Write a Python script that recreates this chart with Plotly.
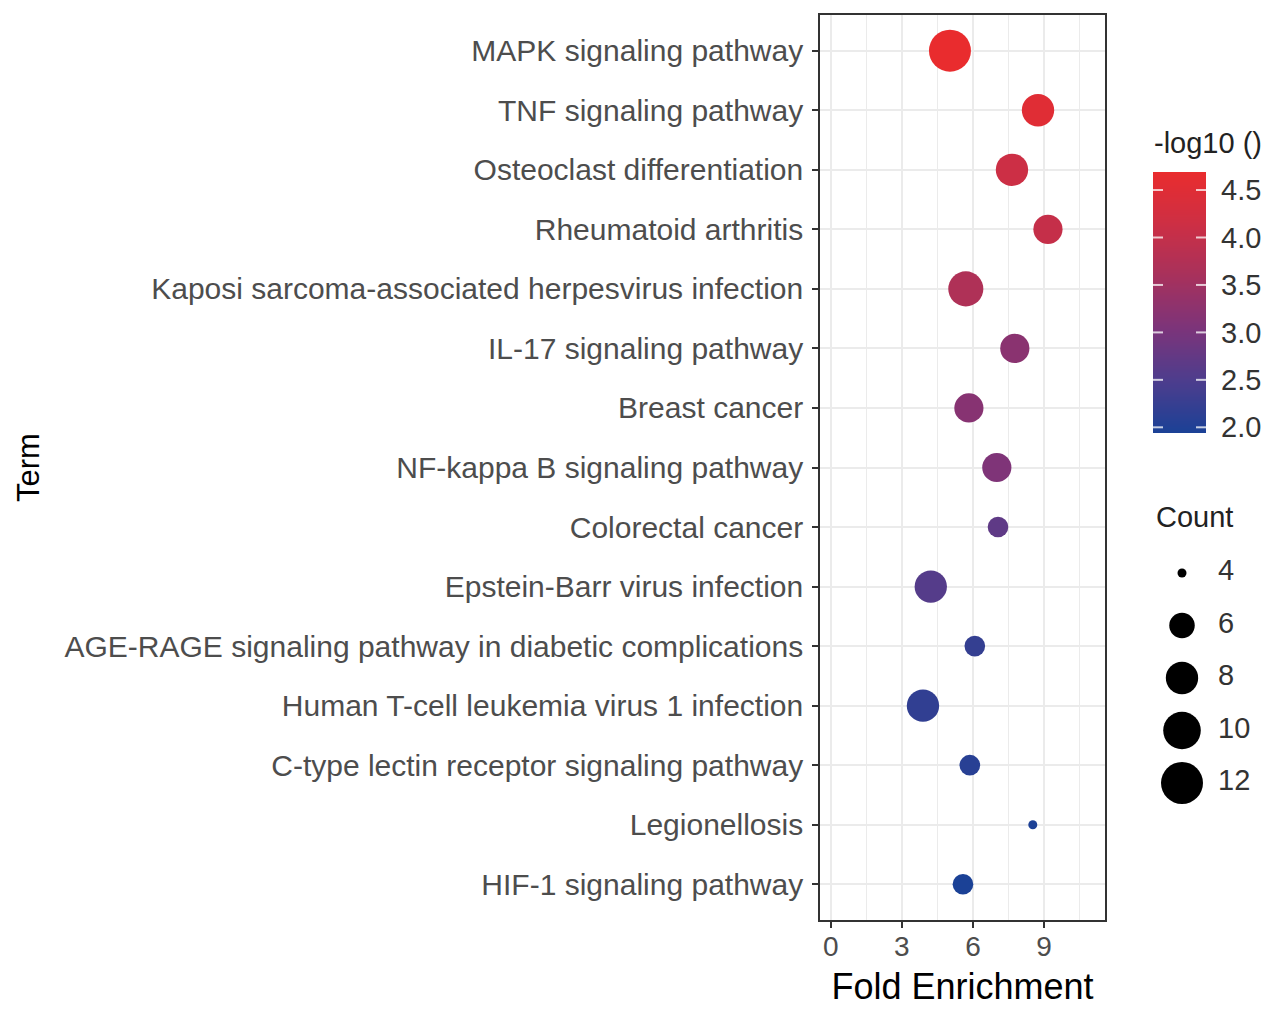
import numpy as np
import plotly.graph_objects as go

# KEGG enrichment results (top to bottom)
terms = [
    "MAPK signaling pathway",
    "TNF signaling pathway",
    "Osteoclast differentiation",
    "Rheumatoid arthritis",
    "Kaposi sarcoma-associated herpesvirus infection",
    "IL-17 signaling pathway",
    "Breast cancer",
    "NF-kappa B signaling pathway",
    "Colorectal cancer",
    "Epstein-Barr virus infection",
    "AGE-RAGE signaling pathway in diabetic complications",
    "Human T-cell leukemia virus 1 infection",
    "C-type lectin receptor signaling pathway",
    "Legionellosis",
    "HIF-1 signaling pathway",
]
fold_enrichment = [5.03, 8.75, 7.65, 9.17, 5.70, 7.77, 5.83, 7.01, 7.06, 4.22, 6.08, 3.89, 5.87, 8.53, 5.58]
counts = [12, 8, 8, 7, 9, 7, 7, 7, 5, 8, 5, 8, 5, 4, 5]
neg_log10_p = [4.69, 4.52, 4.12, 4.02, 3.70, 3.22, 3.18, 3.08, 2.70, 2.58, 2.22, 2.18, 2.08, 1.96, 1.94]

count_breaks = [4, 6, 8, 10, 12]
colorbar_ticks = [2.0, 2.5, 3.0, 3.5, 4.0, 4.5]
x_ticks = [0, 3, 6, 9]

# layout geometry (pixels)
W, H = 1268, 1009
ML, MR, MT, MB = 820, 10, 15, 89
PW, PH = W - ML - MR, H - MT - MB
panel_right = 285 / PW

cmin_c, cmax_c = min(neg_log10_p), max(neg_log10_p)

# area scale for point size, like ggplot's scale_size
smin, smax = 4, 12


def point_diameter(c):
    c = np.asarray(c, dtype=float)
    return 9 + 33 * np.sqrt((c - smin) / (smax - smin))


def px_x(p):
    return (p - ML) / PW


def px_y(p):
    return (H - MB - p) / PH


colorscale = [
    [0.0, "#1b4196"],
    [0.2, "#4d3d8d"],
    [0.4, "#7c347a"],
    [0.6, "#a7315c"],
    [0.8, "#cd2f44"],
    [1.0, "#e92c2e"],
]

font_family = "Liberation Sans, Arial, sans-serif"
grid = "#EBEBEB"
axis_dark = "#333333"
text_gray = "#4D4D4D"
legend_text = "#333333"
legend_size = 29

# colour bar box (pixels from top-left)
cb_left, cb_right, cb_top, cb_bottom = 1153, 1206, 172, 433

fig = go.Figure()

fig.add_trace(go.Scatter(
    x=fold_enrichment,
    y=terms,
    mode="markers",
    marker=dict(
        size=point_diameter(counts),
        sizemode="diameter",
        color=neg_log10_p,
        colorscale=colorscale,
        cmin=cmin_c,
        cmax=cmax_c,
        showscale=False,
        line=dict(width=0),
        opacity=1,
    ),
    showlegend=False,
    hoverinfo="skip",
))

# colour bar drawn as a one-column gradient on its own axis
ramp = np.linspace(cmin_c, cmax_c, 240)
fig.add_trace(go.Heatmap(
    z=ramp.reshape(-1, 1),
    x=[0],
    y=ramp,
    colorscale=colorscale,
    zmin=cmin_c,
    zmax=cmax_c,
    showscale=False,
    xaxis="x3",
    yaxis="y3",
    hoverinfo="skip",
))

# size legend
legend_y = list(range(len(count_breaks)))
fig.add_trace(go.Scatter(
    x=[32] * len(count_breaks),
    y=legend_y,
    mode="markers",
    marker=dict(size=point_diameter(count_breaks), color="#000000", opacity=1, line=dict(width=0)),
    xaxis="x2",
    yaxis="y2",
    showlegend=False,
    hoverinfo="skip",
))
fig.add_trace(go.Scatter(
    x=[68] * len(count_breaks),
    y=legend_y,
    mode="text",
    text=[str(c) for c in count_breaks],
    textposition="middle right",
    textfont=dict(family=font_family, size=legend_size, color=legend_text),
    xaxis="x2",
    yaxis="y2",
    showlegend=False,
    hoverinfo="skip",
))

# legend axis spacing: rows 52.5 px apart, first row at y=573
row_px = 52.5
y2_bottom = (H - MB - 573) / row_px
y2_top = (MT - 573) / row_px

# white break marks on both edges of the colour bar
mark_frac = 10 / (cb_right - cb_left)
shapes = []
for v in colorbar_ticks:
    for x0, x1 in [(0, mark_frac), (1 - mark_frac, 1)]:
        shapes.append(dict(
            type="line", xref="x3 domain", yref="y3",
            x0=x0, x1=x1, y0=v, y1=v,
            line=dict(color="rgba(255,255,255,0.75)", width=2),
            layer="above",
        ))

fig.update_layout(
    width=W,
    height=H,
    margin=dict(l=ML, r=MR, t=MT, b=MB, autoexpand=False),
    paper_bgcolor="white",
    plot_bgcolor="white",
    font=dict(family=font_family, color=text_gray),
    shapes=shapes,
    xaxis=dict(
        domain=[0, panel_right],
        range=[-0.46, 11.58],
        tickvals=x_ticks,
        ticks="outside",
        ticklen=6,
        tickwidth=1.5,
        tickcolor=axis_dark,
        tickfont=dict(size=28, color=text_gray),
        ticklabelstandoff=-5,
        showgrid=True,
        gridcolor=grid,
        gridwidth=1.6,
        minor=dict(dtick=1.5, tick0=0, showgrid=True, gridcolor=grid, gridwidth=0.9, ticks=""),
        showline=True,
        linecolor=axis_dark,
        linewidth=1.6,
        mirror=True,
        zeroline=False,
        title=dict(text="Fold Enrichment", font=dict(size=36, color="black"), standoff=12),
    ),
    yaxis=dict(
        type="category",
        categoryorder="array",
        categoryarray=terms,
        range=[len(terms) - 0.4, -0.6],
        ticks="outside",
        ticklen=6,
        tickwidth=1.5,
        tickcolor=axis_dark,
        tickfont=dict(size=30, color=text_gray),
        ticklabelstandoff=3,
        showgrid=True,
        gridcolor=grid,
        gridwidth=1.6,
        showline=True,
        linecolor=axis_dark,
        linewidth=1.6,
        mirror=True,
        zeroline=False,
    ),
    xaxis2=dict(
        domain=[px_x(1150), 1.0],
        range=[0, 1258 - 1150],
        visible=False,
        anchor="y2",
    ),
    yaxis2=dict(
        domain=[0, 1],
        range=[y2_bottom, y2_top],
        visible=False,
        anchor="x2",
    ),
    xaxis3=dict(
        domain=[px_x(cb_left), px_x(cb_right)],
        range=[-0.5, 0.5],
        visible=False,
        anchor="y3",
    ),
    yaxis3=dict(
        domain=[px_y(cb_bottom), px_y(cb_top)],
        range=[cmin_c, cmax_c],
        anchor="x3",
        side="right",
        tickvals=colorbar_ticks,
        ticktext=[f"{v:.1f}" for v in colorbar_ticks],
        ticks="",
        ticklabelstandoff=14,
        tickfont=dict(size=legend_size, color=legend_text),
        showgrid=False,
        zeroline=False,
        showline=False,
    ),
    annotations=[
        dict(
            text="Term",
            xref="paper", yref="paper",
            x=px_x(28), y=px_y(468),
            xanchor="center", yanchor="middle",
            textangle=-90,
            showarrow=False,
            font=dict(size=31, color="black"),
        ),
        dict(
            text="-log10 ()",
            xref="paper", yref="paper",
            x=px_x(1152), y=px_y(143),
            xanchor="left", yanchor="middle",
            showarrow=False,
            font=dict(size=legend_size, color="#222222"),
        ),
        dict(
            text="Count",
            xref="paper", yref="paper",
            x=px_x(1154), y=px_y(517),
            xanchor="left", yanchor="middle",
            showarrow=False,
            font=dict(size=legend_size, color="#222222"),
        ),
    ],
)

fig.write_html("out.html")
